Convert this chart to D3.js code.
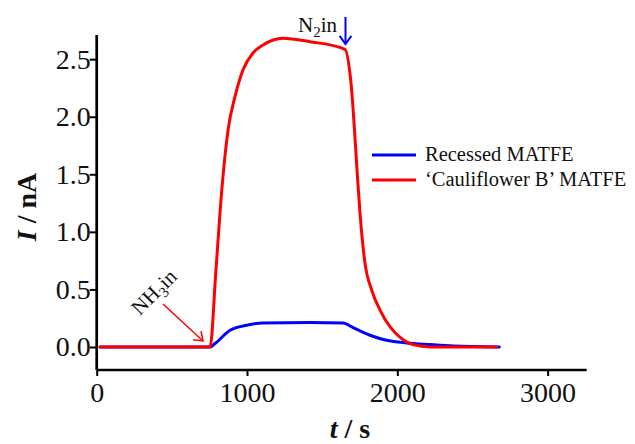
<!DOCTYPE html>
<html>
<head>
<meta charset="utf-8">
<script src="https://cdn.jsdelivr.net/npm/d3@7"></script>
<style>
  body { margin: 0; background: #fff; }
  svg { display: block; }
  text { font-family: "Liberation Serif", "Times New Roman", serif; fill: #111; }
</style>
</head>
<body>
<svg id="chart" width="635" height="444"></svg>
<script>
// Recessed MATFE (blue), t in s, I in nA
const blueT = [22, 754, 787, 887, 998, 1106, 1419, 1641, 1697, 1818, 1929, 2063, 2218, 2373, 2679];
const blueI = [0, 0, 0.030, 0.145, 0.189, 0.209, 0.212, 0.209, 0.174, 0.102, 0.058, 0.035, 0.021, 0.009, 0];

// 'Cauliflower B' MATFE (red)
const redT = [22, 754, 794, 832, 874, 920, 973, 1040, 1106, 1239, 1419, 1652, 1690, 1741, 1752, 1785, 1830, 1885, 1952, 2029, 2104, 2218, 2661];
const redI = [0, 0, 0.68, 1.36, 1.885, 2.174, 2.406, 2.554, 2.623, 2.682, 2.652, 2.586, 2.319, 1.363, 1.163, 0.728, 0.493, 0.32, 0.174, 0.073, 0.021, 0, 0];

const xTicks = [0, 1000, 2000, 3000];
const yTicks = [0, 0.5, 1.0, 1.5, 2.0, 2.5];
const seriesNames = ["Recessed MATFE", "\u2018Cauliflower B\u2019 MATFE"];
const seriesColors = ["#0000ff", "#ff0000"];

const svg = d3.select("#chart");

// plot area in pixels
const plotLeft = 96.7, plotRight = 586.7, plotTop = 35, plotBottom = 370;

const x = d3.scaleLinear().domain([0, 3260]).range([plotLeft, plotRight]);
const y = d3.scaleLinear().domain([-0.2, 2.71]).range([plotBottom, plotTop]);

const line = d3.line()
    .x(d => x(d[0]))
    .y(d => y(d[1]))
    .curve(d3.curveMonotoneX);

const series = [
    d3.zip(blueT, blueI),
    d3.zip(redT, redI)
];

// curves: blue first so red lies on top
svg.selectAll("path.curve")
    .data(series)
    .enter()
    .append("path")
    .attr("class", "curve")
    .attr("d", line)
    .attr("fill", "none")
    .attr("stroke", (d, i) => seriesColors[i])
    .attr("stroke-width", 3)
    .attr("stroke-linejoin", "round")
    .attr("stroke-linecap", "round");

// axes
const xAxis = d3.axisBottom(x).tickValues(xTicks).tickSize(6).tickPadding(6).tickFormat(d3.format("d"));
const yAxis = d3.axisLeft(y).tickValues(yTicks).tickSize(7).tickPadding(-1).tickFormat(d3.format(".1f"));

const gx = svg.append("g").attr("transform", `translate(0,${plotBottom})`).call(xAxis);
const gy = svg.append("g").attr("transform", `translate(${plotLeft},0)`).call(yAxis);

[gx, gy].forEach(g => {
    g.select(".domain").attr("stroke", "#000").attr("stroke-width", 2.7);
    g.selectAll(".tick line").attr("stroke", "#000").attr("stroke-width", 2);
    g.selectAll(".tick text")
        .attr("fill", "#111")
        .style("font-family", "'Liberation Serif', 'Times New Roman', serif")
        .style("font-size", "28px");
});
gx.select(".domain").attr("d", `M${plotLeft},0H${plotRight}`);
gy.select(".domain").attr("d", `M0,${plotTop}V${plotBottom}`);
gx.selectAll(".tick text").attr("dy", "0.71em");

// axis titles
const yTitle = svg.append("text")
    .attr("transform", "translate(36,207) rotate(-90)")
    .attr("text-anchor", "middle")
    .style("font-size", "28px")
    .style("font-weight", "bold");
yTitle.append("tspan").style("font-style", "italic").text("I");
yTitle.append("tspan").text(" / nA");

const xTitle = svg.append("text")
    .attr("x", 350).attr("y", 438)
    .attr("text-anchor", "middle")
    .style("font-size", "28px")
    .style("font-weight", "bold");
xTitle.append("tspan").style("font-style", "italic").text("t");
xTitle.append("tspan").text(" / s");

// legend
const legend = svg.append("g").attr("transform", "translate(372,155)");
seriesNames.forEach((name, i) => {
    const row = legend.append("g").attr("transform", `translate(0,${i * 25})`);
    row.append("line")
        .attr("x1", 0).attr("x2", 44)
        .attr("stroke", seriesColors[i])
        .attr("stroke-width", 3);
    row.append("text")
        .attr("x", 53).attr("y", 6)
        .style("font-size", "20.5px")
        .text(name);
});

// annotations
function arrow(g, x1, y1, x2, y2, color, w, head) {
    const a = Math.atan2(y2 - y1, x2 - x1);
    g.append("line")
        .attr("x1", x1).attr("y1", y1).attr("x2", x2).attr("y2", y2)
        .attr("stroke", color).attr("stroke-width", w);
    const pts = [a + Math.PI * 0.8, a - Math.PI * 0.8].map(b => [x2 + head * Math.cos(b), y2 + head * Math.sin(b)]);
    g.append("path")
        .attr("d", `M${pts[0][0]},${pts[0][1]}L${x2},${y2}L${pts[1][0]},${pts[1][1]}`)
        .attr("fill", "none")
        .attr("stroke", color).attr("stroke-width", w)
        .attr("stroke-linejoin", "miter");
}

const ann = svg.append("g");

// N2 in, with blue arrow
const n2 = ann.append("text")
    .attr("x", 298).attr("y", 32)
    .style("font-size", "21px");
n2.append("tspan").text("N");
n2.append("tspan").attr("dy", 5).style("font-size", "15px").text("2");
n2.append("tspan").attr("dy", -5).text("in");
arrow(ann, 345.5, 17, 345.5, 44, "#0000ff", 2, 10);

// NH3 in, rotated, with red arrow
const nh3 = ann.append("text")
    .attr("transform", "translate(159,297) rotate(-45)")
    .attr("text-anchor", "middle")
    .style("font-size", "21px");
nh3.append("tspan").text("NH");
nh3.append("tspan").attr("dy", 5).style("font-size", "15px").text("3");
nh3.append("tspan").attr("dy", -5).text("in");
arrow(ann, 163, 304, 203, 341, "#ff0000", 1.5, 10);
</script>
</body>
</html>
